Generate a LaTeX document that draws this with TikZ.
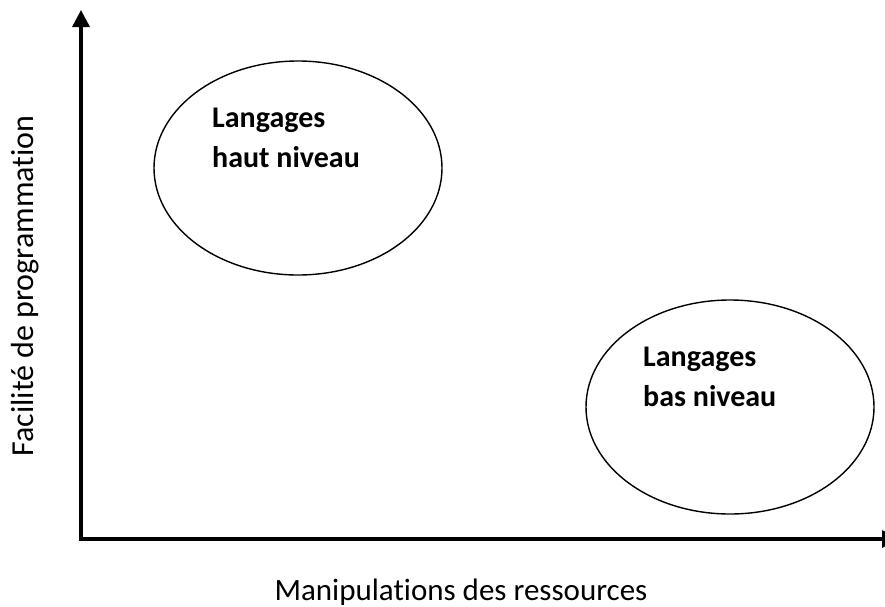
\documentclass[tikz,border=0pt]{standalone}
\usepackage{fontspec}
\setmainfont[Ligatures=NoCommon]{Carlito}
\usetikzlibrary{arrows.meta,shapes.geometric}
\begin{document}
\begin{tikzpicture}[x=1pt,y=-1pt,
  axis/.style={line width=3.5pt,-{Triangle[width=17pt,length=17pt]}},
  bubble/.style={ellipse,draw,line width=1.4pt,minimum width=288pt,minimum height=214pt,inner sep=0pt},
  bubbletext/.style={font=\fontsize{30}{40}\selectfont\bfseries,align=left,inner sep=0pt,anchor=base west},
  axislabel/.style={font=\fontsize{31}{36}\selectfont,inner sep=0pt}
]
\useasboundingbox (0,0) rectangle (885,606);
% axes
\coordinate (origin) at (81,539);
\coordinate (ytip) at (81,10);
\coordinate (xtip) at (899,539);
\draw[axis,line cap=rect] (origin) -- (ytip);
\draw[axis] ([xshift=-1.75pt]origin) -- (xtip);
% axis labels
\node[axislabel,rotate=90,font=\fontsize{32}{36}\selectfont] (ylab) at (25,286) {Facilité de programmation};
\node[axislabel,anchor=base] (xlab) at (461,600) {Manipulations des ressources};
% language families
\node[bubble] (haut) at (298,168) {};
\node[bubbletext] (hauttxt) at (212,167) {Langages\\haut niveau};
\node[bubble] (bas) at (730,407) {};
\node[bubbletext] (bastxt) at (643,406) {Langages\\bas niveau};
\end{tikzpicture}
\end{document}
